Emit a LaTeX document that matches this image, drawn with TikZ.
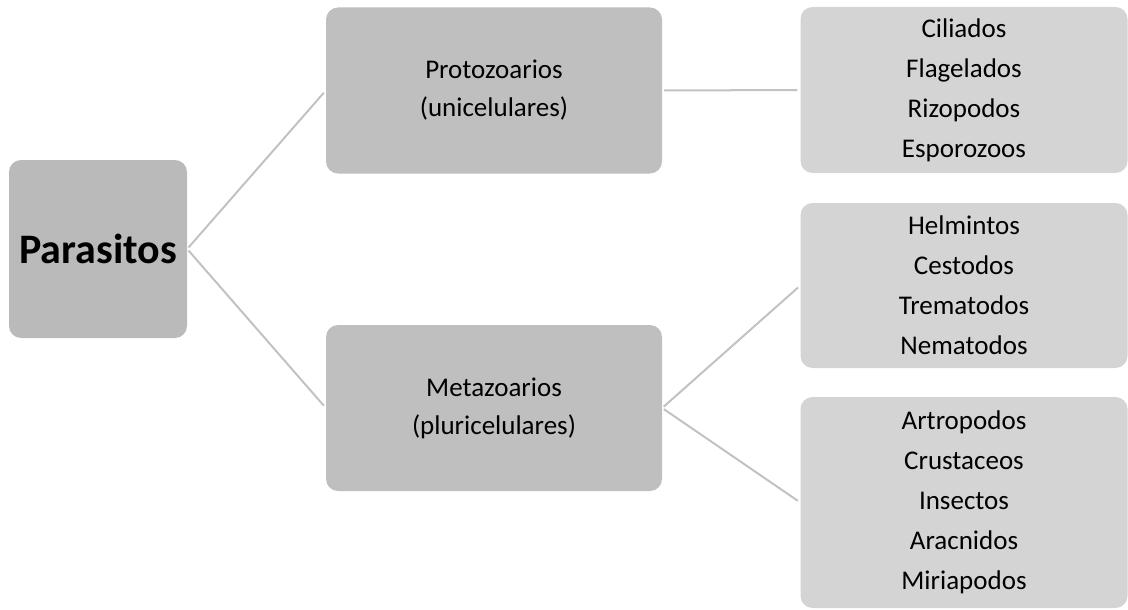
\documentclass[tikz,border=0pt]{standalone}
\usepackage{fontspec}
\setmainfont{Carlito}
\definecolor{rootgray}{HTML}{BABABA}
\definecolor{midgray}{HTML}{BFBFBF}
\definecolor{leafgray}{HTML}{D4D4D4}
\definecolor{linegray}{HTML}{C2C2C2}
\begin{document}
\begin{tikzpicture}[x=1pt, y=-1pt,
    box/.style={rounded corners=12pt, inner sep=0pt, align=center, font=\fontsize{27}{40}\selectfont},
    root/.style={box, fill=rootgray, minimum width=178pt, minimum height=178pt, font=\fontsize{42}{48}\selectfont\bfseries},
    mid/.style={box, fill=midgray, minimum width=336pt, minimum height=166pt, font=\fontsize{27}{38}\selectfont},
    leaf/.style={box, fill=leafgray, minimum width=327pt},
    link/.style={draw=linegray, line width=2pt, shorten <=2pt, shorten >=3pt}]
        \useasboundingbox (0,0) rectangle (1128,610);

        \node[root] (par) at (98,249) {Parasitos};

        % second level
        \node[mid] (pro) at (494,90.5) {Protozoarios\\(unicelulares)};
        \node[mid] (met) at (494,408) {Metazoarios\\(pluricelulares)};

        % leaves
        \node[leaf, minimum height=166pt] (cil) at (964,90) {Ciliados\\Flagelados\\Rizopodos\\Esporozoos};
        \node[leaf, minimum height=165pt] (hel) at (964,285.5) {Helmintos\\Cestodos\\Trematodos\\Nematodos};
        \node[leaf, minimum height=211pt] (art) at (964,502.5) {Artropodos\\Crustaceos\\Insectos\\Aracnidos\\Miriapodos};

        \draw[link] (par.east) -- (pro.west);
        \draw[link] (par.east) -- (met.west);
        \draw[link] (pro.east) -- (cil.west);
        \draw[link] (met.east) -- (hel.west);
        \draw[link] (met.east) -- (art.west);
    \end{tikzpicture}
\end{document}
